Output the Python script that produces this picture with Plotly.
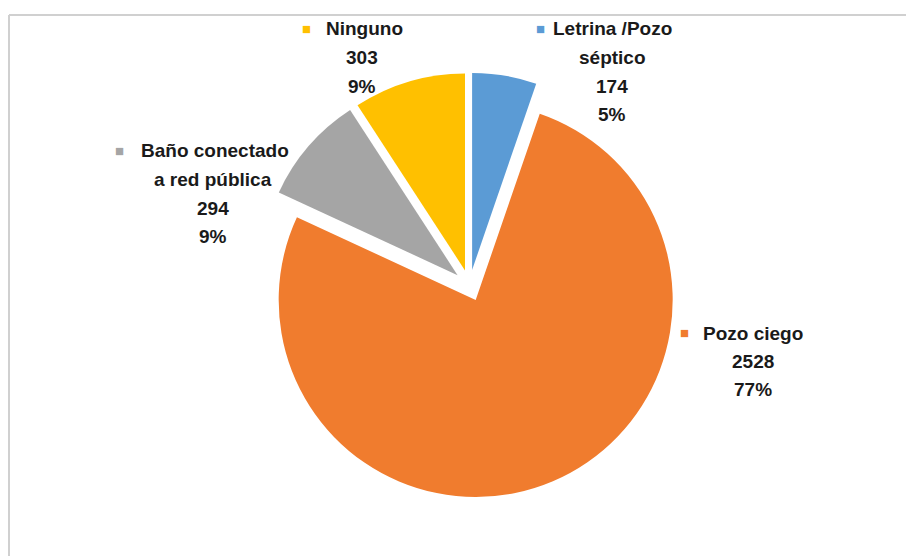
import plotly.graph_objects as go

categories = ["Letrina /Pozo séptico", "Pozo ciego", "Baño conectado a red pública", "Ninguno"]
values = [174, 2528, 294, 303]
percent_labels = ["5%", "77%", "9%", "9%"]
colors = ["#5B9BD5", "#F07C2E", "#A5A5A5", "#FFC000"]
pulls = [0.08, 0.08, 0.08, 0.08]

W, H = 914, 556
OFF = 8  # page body margin
cx, cy, r = 469.5 - OFF, 285.5 - OFF, 197
half = r * (1 + max(pulls))

fig = go.Figure(go.Pie(
    labels=categories, values=values, sort=False, direction="clockwise",
    rotation=0, pull=pulls, textinfo="none", hoverinfo="label+value+percent",
    marker=dict(colors=colors, line=dict(width=0)),
    domain=dict(x=[(cx - half) / W, (cx + half) / W],
                y=[1 - (cy + half) / H, 1 - (cy - half) / H]),
    showlegend=False,
))

# label blocks: (lines, center x of text, first line y, square x)
label_lines = [
    ["Letrina /Pozo", "séptico", str(values[0]), percent_labels[0]],
    ["Pozo ciego", str(values[1]), percent_labels[1]],
    ["Baño conectado", "a red pública", str(values[2]), percent_labels[2]],
    ["Ninguno", str(values[3]), percent_labels[3]],
]
block_pos = [(612, 29, 540), (753, 333, 684), (213, 151, 119), (362, 29, 306)]
first_line_x = [612, 753, 215, 364]
spacing = 28.5
font = dict(family="Liberation Sans, Arial, sans-serif", size=19, color="#1a1a1a")

ann = []
for i, lines in enumerate(label_lines):
    bx, by, sqx = block_pos[i]
    for j, t in enumerate(lines):
        x = first_line_x[i] if j == 0 else bx
        ann.append(dict(x=(x - OFF) / W, y=1 - (by - OFF + j * spacing) / H,
                        xref="paper", yref="paper",
                        text="<b>%s</b>" % t, showarrow=False, font=font,
                        xanchor="center", yanchor="middle"))
    ann.append(dict(x=(sqx - OFF) / W, y=1 - (by - OFF - 1) / H, xref="paper", yref="paper",
                    text="■", showarrow=False, font=dict(size=15, color=colors[i]),
                    xanchor="center", yanchor="middle"))

top_y = 1 - 7 / H
left_x = (9 - OFF) / W
fig.update_layout(
    width=W, height=H, margin=dict(l=0, r=0, t=0, b=0),
    paper_bgcolor="white", plot_bgcolor="white",
    annotations=ann,
    shapes=[
        dict(type="line", xref="paper", yref="paper", x0=left_x, x1=1.0,
             y0=top_y, y1=top_y, line=dict(color="#D0D0D0", width=2)),
        dict(type="line", xref="paper", yref="paper", x0=left_x, x1=left_x,
             y0=0, y1=top_y, line=dict(color="#D0D0D0", width=2)),
    ],
)

fig.write_html("out.html")
